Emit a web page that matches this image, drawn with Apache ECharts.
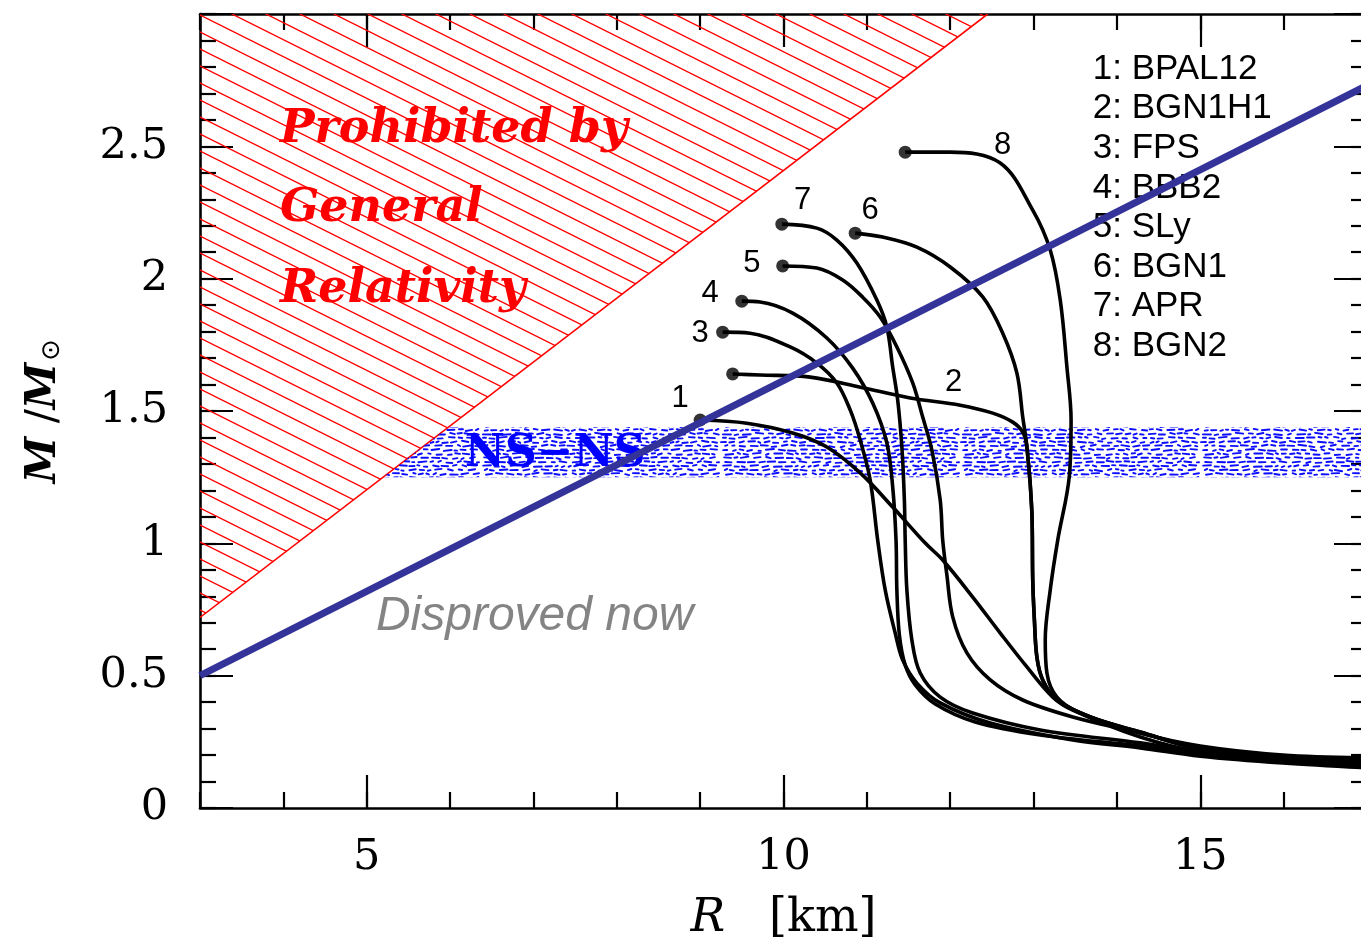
<!DOCTYPE html>
<html><head><meta charset="utf-8">
<script src="https://cdn.jsdelivr.net/npm/echarts@6/dist/echarts.min.js"></script>
<style>html,body{margin:0;padding:0;background:#fff;overflow:hidden}#chart{width:1361px;height:947px}</style>
</head><body><div id="chart"></div>
<script>
// ---------------- data ----------------
const eosNames = ['BPAL12','BGN1H1','FPS','BBB2','SLy','BGN1','APR','BGN2'];

// mass-radius curves [R km, M/Msun], first point = maximum-mass dot
const eosBPAL12 = [[9.00,1.466],[9.56,1.454],[10.11,1.417],[10.52,1.364],[10.92,1.266],[11.31,1.137],[11.70,1.001],[11.91,0.937],[12.27,0.797],[12.60,0.661],[12.92,0.533],[13.23,0.419],[13.47,0.370],[14.28,0.268],[15.00,0.212],[15.99,0.189],[17.04,0.166]];
const eosBGN1H1 = [[9.39,1.640],[9.72,1.636],[10.32,1.628],[10.92,1.590],[11.52,1.549],[12.12,1.522],[12.51,1.492],[12.75,1.458],[12.87,1.420],[12.92,1.364],[12.98,1.114],[12.99,0.861],[13.01,0.710],[13.04,0.570],[13.11,0.484],[13.28,0.408],[13.68,0.344],[14.28,0.287],[15.00,0.223],[15.99,0.196],[17.04,0.181]];
const eosFPS = [[9.27,1.798],[9.60,1.794],[10.08,1.742],[10.40,1.681],[10.64,1.606],[10.80,1.504],[10.92,1.390],[11.04,1.239],[11.13,1.012],[11.22,0.824],[11.34,0.661],[11.43,0.559],[11.60,0.472],[11.88,0.397],[12.48,0.321],[13.47,0.257],[14.28,0.227],[15.00,0.196],[15.99,0.170],[17.04,0.151]];
const eosBBB2 = [[9.50,1.915],[9.72,1.912],[10.11,1.870],[10.52,1.776],[10.83,1.662],[11.07,1.530],[11.24,1.379],[11.31,1.213],[11.35,1.012],[11.36,0.824],[11.39,0.654],[11.46,0.540],[11.58,0.465],[11.82,0.393],[12.30,0.325],[13.08,0.276],[14.28,0.234],[15.00,0.204],[15.99,0.174],[17.04,0.155]];
const eosSLy = [[9.99,2.048],[10.40,2.040],[10.71,1.995],[10.95,1.930],[11.16,1.855],[11.36,1.742],[11.55,1.606],[11.67,1.477],[11.78,1.352],[11.88,1.164],[11.91,1.012],[11.96,0.880],[12.03,0.722],[12.20,0.586],[12.48,0.484],[12.87,0.408],[13.47,0.344],[14.28,0.283],[15.00,0.227],[15.99,0.193],[17.04,0.174]];
const eosBGN1 = [[10.86,2.172],[11.19,2.157],[11.60,2.119],[12.00,2.044],[12.39,1.931],[12.63,1.794],[12.80,1.643],[12.87,1.477],[12.92,1.364],[12.98,1.114],[12.99,0.861],[13.01,0.710],[13.04,0.570],[13.11,0.484],[13.28,0.408],[13.68,0.344],[14.28,0.287],[15.00,0.223],[15.99,0.196],[17.04,0.181]];
const eosAPR = [[9.98,2.206],[10.40,2.191],[10.64,2.146],[10.88,2.059],[11.12,1.919],[11.24,1.817],[11.31,1.666],[11.37,1.541],[11.42,1.364],[11.45,1.164],[11.46,1.012],[11.48,0.824],[11.54,0.635],[11.64,0.510],[11.88,0.419],[12.27,0.359],[13.08,0.295],[14.28,0.246],[15.00,0.212],[15.99,0.181],[17.04,0.162]];
const eosBGN2 = [[11.46,2.478],[12.00,2.478],[12.60,2.437],[12.99,2.259],[13.20,2.108],[13.32,1.919],[13.40,1.666],[13.45,1.466],[13.43,1.258],[13.29,1.012],[13.20,0.824],[13.14,0.635],[13.16,0.510],[13.28,0.419],[13.56,0.359],[14.28,0.283],[15.00,0.234],[15.99,0.200],[17.04,0.189]];

const xMajorTicks = [5, 10, 15];
const yLabelValues = [0, 0.5, 1, 1.5, 2, 2.5];
const grLimitLine = [[3, 0.72], [12.45, 3]];      // "prohibited by GR" boundary
const disprovedLine = [[3, 0.5], [17, 2.73]];      // thick blue line
const nsnsBandMass = [1.25, 1.44];                  // NS-NS binary mass band
const curveNumberAt = [[8.76,1.549],[12.04,1.609],[9.00,1.794],[9.12,1.945],[9.62,2.059],[11.04,2.259],[10.23,2.297],[12.63,2.505]];

// ---------------- layout / styles ----------------
const XMIN = 3, XMAX = 17, YMIN = 0, YMAX = 3;
const curves = [eosBPAL12, eosBGN1H1, eosFPS, eosBBB2, eosSLy, eosBGN1, eosAPR, eosBGN2];
const BLACK = '#000';
const SERIF = 'DejaVu Serif';
const SANS = 'Liberation Sans';

function makeHatch() {
  const c = document.createElement('canvas'); c.width = 34; c.height = 17;
  const g = c.getContext('2d');
  g.strokeStyle = '#ff0000'; g.lineWidth = 1.3;
  for (let k = -2; k <= 2; k++) {
    g.beginPath(); g.moveTo(-34, -17 + 17 * k); g.lineTo(68, 34 + 17 * k); g.stroke();
  }
  return c;
}
function makeDashTexture() {
  const W = 240, H = 48;
  const c = document.createElement('canvas'); c.width = W; c.height = H;
  const g = c.getContext('2d');
  let s = 987654321;
  const rnd = () => { s = (s * 1103515245 + 12345) % 2147483648; return s / 2147483648; };
  g.strokeStyle = '#0c0cff'; g.lineWidth = 1.9; g.lineCap = 'round';
  for (let y = 2; y < H; y += 4) {
    let x = rnd() * 6;
    while (x < W - 2) {
      const len = 2 + rnd() * 6;
      const tilt = (rnd() - 0.5) * 2.5;
      const yy = y + (rnd() - 0.5) * 1.6;
      g.beginPath(); g.moveTo(x, yy + tilt / 2); g.lineTo(Math.min(x + len, W - 1), yy - tilt / 2); g.stroke();
      x += len + 2.5 + rnd() * 4;
    }
  }
  return c;
}
const hatchImg = makeHatch();
const dashImg = makeDashTexture();

function grAt(m) { // R on the GR boundary for mass m
  const [a, b] = grLimitLine;
  return a[0] + (m - a[1]) * (b[0] - a[0]) / (b[1] - a[1]);
}

const tickStyle = { color: BLACK, width: 2.2 };
const LABEL_SIZE = 43;
function xAx(pos, major) {
  const ax = {
    type: 'value', min: XMIN, max: XMAX, position: pos,
    axisLine: { show: !major, onZero: false, lineStyle: { color: BLACK, width: 2.6 } },
    axisTick: { show: true, inside: true, length: major ? 33 : 16, lineStyle: tickStyle },
    axisLabel: { show: false },
    splitLine: { show: false }
  };
  if (major) { ax.axisTick.customValues = xMajorTicks; } else { ax.interval = 1; }
  if (major && pos === 'bottom') {
    ax.axisLabel = { show: true, customValues: xMajorTicks, margin: 28, color: BLACK, fontFamily: SERIF, fontSize: LABEL_SIZE };
    ax.name = '{i|R}   [km]';
    ax.nameLocation = 'middle';
    ax.nameGap = 88;
    ax.nameTextStyle = { color: BLACK, fontFamily: SERIF, fontSize: 46,
      rich: { i: { fontFamily: SERIF, fontStyle: 'italic', fontSize: 46, color: BLACK } } };
  }
  return ax;
}
function yAx(pos, major) {
  const ax = {
    type: 'value', min: YMIN, max: YMAX, position: pos, interval: major ? 0.5 : 0.1,
    axisLine: { show: !major, onZero: false, lineStyle: { color: BLACK, width: 2.6 } },
    axisTick: { show: true, inside: true, length: major ? 33 : 16, lineStyle: tickStyle },
    axisLabel: { show: false },
    splitLine: { show: false }
  };
  if (major && pos === 'left') {
    ax.axisLabel = { show: true, customValues: yLabelValues, margin: 32, color: BLACK, fontFamily: SERIF, fontSize: LABEL_SIZE };
    ax.name = '{i|M} /{i|M}{s|⊙}';
    ax.nameLocation = 'middle';
    ax.nameRotate = 90;
    ax.nameGap = 135;
    ax.nameTextStyle = { color: BLACK, fontFamily: SERIF, fontSize: 42,
      rich: { i: { fontFamily: SERIF, fontStyle: 'italic', fontWeight: 'bold', fontSize: 42, color: BLACK },
              s: { fontFamily: 'DejaVu Sans', fontSize: 26, color: BLACK, verticalAlign: 'bottom', padding: [0, 0, 0, 2] } } };
  }
  return ax;
}

const series = [];

// GR prohibited region (hatched)
series.push({
  type: 'custom', z: 1, clip: true, silent: true,
  data: [[XMIN, YMAX]],
  renderItem(params, api) {
    const a = api.coord(grLimitLine[0]), b = api.coord(grLimitLine[1]), c = api.coord([XMIN, YMAX]);
    return { type: 'group', children: [
      { type: 'polygon', shape: { points: [a, b, c] }, style: { fill: { image: hatchImg, repeat: 'repeat' } } },
      { type: 'line', shape: { x1: a[0], y1: a[1], x2: b[0], y2: b[1] }, style: { stroke: '#ff0000', lineWidth: 1.6 } }
    ] };
  }
});

// NS-NS band
series.push({
  type: 'custom', z: 2, clip: true, silent: true,
  data: [[XMIN, nsnsBandMass[0]]],
  renderItem(params, api) {
    const [m0, m1] = nsnsBandMass;
    const pts = [[grAt(m0), m0], [XMAX, m0], [XMAX, m1], [grAt(m1), m1]].map(p => api.coord(p));
    return { type: 'polygon', shape: { points: pts }, style: { fill: { image: dashImg, repeat: 'repeat' } } };
  }
});

// EOS curves
curves.forEach((c, i) => {
  series.push({
    type: 'line', name: eosNames[i], data: c, z: 3, smooth: 0.35, showSymbol: false, silent: true,
    lineStyle: { color: BLACK, width: 3.6 }
  });
});

// max-mass dots
series.push({
  type: 'scatter', z: 4, silent: true, symbolSize: 13,
  itemStyle: { color: BLACK },
  data: curves.map(c => c[0])
});

// texts
series.push({
  type: 'custom', z: 5, clip: false, silent: true,
  data: [[XMIN, YMIN]],
  renderItem(params, api) {
    const ch = [];
    const put = (pt, text, st, dy) => {
      const p = api.coord(pt);
      ch.push({ type: 'text', x: p[0], y: p[1] + (dy || 0), style: Object.assign({ text }, st) });
    };
    const red = { fill: '#ff0000', fontFamily: SERIF, fontStyle: 'italic', fontWeight: 'bold', fontSize: 46, align: 'left', verticalAlign: 'middle' };
    put([3.96, 2.56], 'Prohibited by', red);
    put([3.96, 2.262], 'General', red);
    put([3.96, 1.958], 'Relativity', red);
    put([7.26, 1.334], 'NS\u2212NS', { fill: '#0000ff', fontFamily: SERIF, fontWeight: 'bold', fontSize: 44, align: 'center', verticalAlign: 'middle' });
    put([5.11, 0.722], 'Disproved now', { fill: '#848484', fontFamily: SANS, fontStyle: 'italic', fontSize: 48, align: 'left', verticalAlign: 'middle' });
    curveNumberAt.forEach((pt, i) => put(pt, String(i + 1), { fill: BLACK, fontFamily: SANS, fontSize: 31, align: 'center', verticalAlign: 'middle' }));
    eosNames.forEach((n, i) => put([13.71, 2.792], (i + 1) + ': ' + n,
      { fill: BLACK, fontFamily: SANS, fontSize: 35, align: 'left', verticalAlign: 'middle' }, i * 39.6));
    return { type: 'group', children: ch };
  }
});

// disproved line
series.push({
  type: 'line', z: 6, data: disprovedLine, showSymbol: false, silent: true,
  lineStyle: { color: '#333399', width: 7 }
});

const chart = echarts.init(document.getElementById('chart'), null, { renderer: 'canvas' });
chart.setOption({
  animation: false,
  backgroundColor: '#fff',
  grid: { left: 200, top: 14, width: 1167, height: 794, containLabel: false, outerBoundsMode: 'none' },
  xAxis: [xAx('bottom', false), xAx('bottom', true), xAx('top', false), xAx('top', true)],
  yAxis: [yAx('left', false), yAx('left', true), yAx('right', false), yAx('right', true)],
  series: series.map(s => Object.assign({ xAxisIndex: 0, yAxisIndex: 0 }, s))
});
</script></body></html>
